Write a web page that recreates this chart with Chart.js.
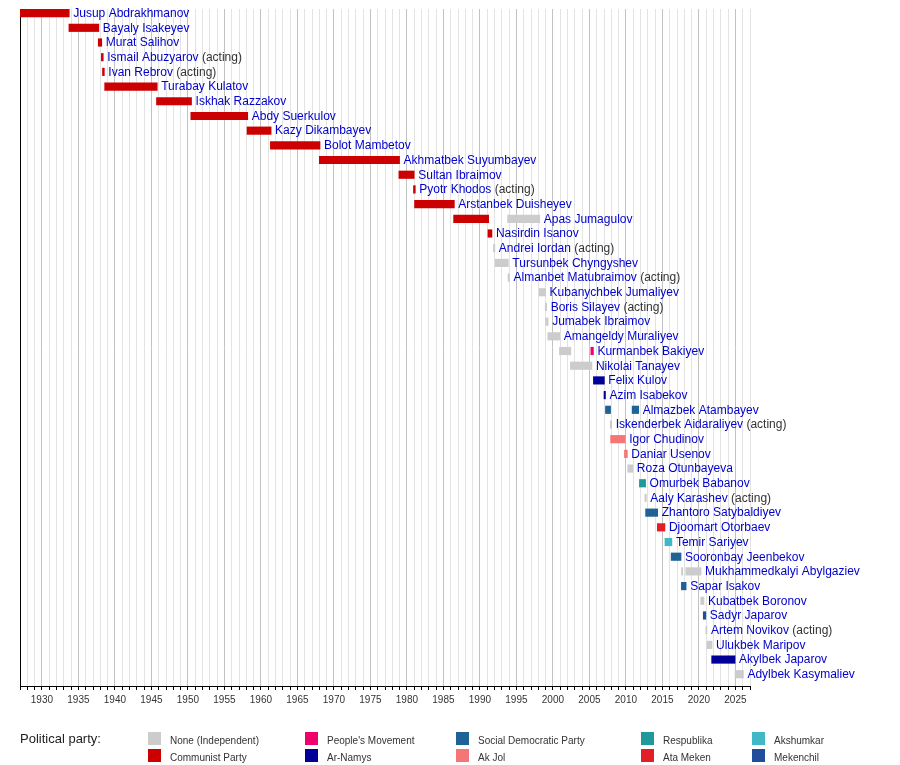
<!DOCTYPE html>
<html><head><meta charset="utf-8">
<script src="https://cdn.jsdelivr.net/npm/chart.js@4.4.1/dist/chart.umd.min.js"></script>
<style>
html,body{margin:0;padding:0;background:#fff;}
#wrap{position:relative;width:900px;height:765px;}
#legend{position:absolute;left:0;top:0;width:900px;height:765px;pointer-events:none;font-family:"Liberation Sans",Arial,sans-serif;}
.sw{position:absolute;width:13px;height:13px;}
.lt{position:absolute;font-size:10px;color:#333;line-height:13px;white-space:nowrap;}
.ttl{position:absolute;font-size:13px;color:#222;line-height:16px;white-space:nowrap;}
</style></head>
<body><div id="wrap"><canvas id="c" width="900" height="765"></canvas><div id="legend"></div></div>
<script>
const names = ["Jusup Abdrakhmanov","Bayaly Isakeyev","Murat Salihov","Ismail Abuzyarov","Ivan Rebrov","Turabay Kulatov","Iskhak Razzakov","Abdy Suerkulov","Kazy Dikambayev","Bolot Mambetov","Akhmatbek Suyumbayev","Sultan Ibraimov","Pyotr Khodos","Arstanbek Duisheyev","Apas Jumagulov","Nasirdin Isanov","Andrei Iordan","Tursunbek Chyngyshev","Almanbet Matubraimov","Kubanychbek Jumaliyev","Boris Silayev","Jumabek Ibraimov","Amangeldy Muraliyev","Kurmanbek Bakiyev","Nikolai Tanayev","Felix Kulov","Azim Isabekov","Almazbek Atambayev","Iskenderbek Aidaraliyev","Igor Chudinov","Daniar Usenov","Roza Otunbayeva","Omurbek Babanov","Aaly Karashev","Zhantoro Satybaldiyev","Djoomart Otorbaev","Temir Sariyev","Sooronbay Jeenbekov","Mukhammedkalyi Abylgaziev","Sapar Isakov","Kubatbek Boronov","Sadyr Japarov","Artem Novikov","Ulukbek Maripov","Akylbek Japarov","Adylbek Kasymaliev"];
const acting = [0,0,0,1,1,0,0,0,0,0,0,0,1,0,0,0,1,0,1,0,1,0,0,0,0,0,0,0,1,0,0,0,0,1,0,0,0,0,0,0,0,0,1,0,0,0];

// terms: row index, start year, end year, party index
const termRow   = [0,1,2,3,4,5,6,7,8,9,10,11,12,13,14,14,15,16,17,18,19,20,21,22,23,23,24,25,26,27,27,28,29,30,31,32,33,34,35,36,37,38,38,39,40,41,42,43,44,45];
const termStart = [1927.0,1933.7,1937.72,1938.15,1938.3,1938.6,1945.7,1950.4,1958.1,1961.3,1968.0,1978.9,1980.9,1981.05,1986.4,1993.8,1991.1,1991.85,1992.1,1993.85,1998.1,1998.95,1999.0,1999.3,2000.9,2005.2,2002.4,2005.55,2007.0,2007.2,2010.85,2007.85,2007.9,2009.8,2010.25,2011.85,2012.6,2012.7,2014.3,2015.35,2016.2,2017.62,2018.2,2017.6,2020.25,2020.6,2020.95,2021.1,2021.75,2024.95];
const termEnd   = [1933.75,1937.8,1938.2,1938.4,1938.55,1945.8,1950.5,1958.2,1961.4,1968.1,1979.0,1981.0,1981.15,1986.5,1991.2,1998.2,1991.65,1992.05,1993.9,1994.05,1999.0,1999.15,1999.35,2000.95,2002.45,2005.55,2005.35,2007.05,2007.2,2007.9,2011.75,2008.05,2009.9,2010.2,2010.95,2012.7,2012.8,2014.35,2015.35,2016.3,2017.55,2017.8,2020.3,2018.25,2020.7,2020.95,2021.1,2021.8,2024.95,2026.1];
const termParty = [1,1,1,1,1,1,1,1,1,1,1,1,1,1,1,0,1,0,0,0,0,0,0,0,0,2,0,3,3,4,4,0,5,5,0,6,0,4,7,8,4,0,0,4,0,9,0,0,3,0];

const parties = ["None (Independent)","Communist Party","People's Movement","Ar-Namys","Social Democratic Party","Ak Jol","Respublika","Ata Meken","Akshumkar","Mekenchil"];
const partyColors = ["#cccccc","#cc0000","#f0006a","#000099","#1f6296","#f47676","#1f9999","#e21f28","#40b8c6","#1f4f9a"];

const yearMin = 1927, yearMax = 2027;

const datasets = parties.map((p, pi) => ({
  label: p,
  backgroundColor: partyColors[pi],
  data: termRow.map((r, k) => termParty[k] === pi ? {x: [termStart[k], termEnd[k]], y: r} : null).filter(d => d)
}));

const labelPlugin = {
  id: 'names',
  afterDatasetsDraw(chart) {
    const {ctx, scales: {x, y}} = chart;
    ctx.save();
    ctx.font = '12px "Liberation Sans", Arial, sans-serif';
    ctx.textBaseline = 'middle';
    names.forEach((n, i) => {
      let end = -Infinity;
      termRow.forEach((r, k) => { if (r === i) end = Math.max(end, termEnd[k]); });
      let px = x.getPixelForValue(end) + 4;
      const py = y.getPixelForValue(i) + 0.5;
      ctx.fillStyle = '#0000cc';
      ctx.fillText(n, px, py);
      if (acting[i]) {
        px += ctx.measureText(n).width;
        ctx.fillStyle = '#333';
        ctx.fillText(' (acting)', px, py);
      }
    });
    ctx.restore();
  }
};

new Chart(document.getElementById('c'), {
  type: 'bar',
  data: {datasets},
  options: {
    indexAxis: 'y',
    responsive: false,
    animation: false,
    layout: {padding: {left: 20, right: 150, top: 9, bottom: 0}},
    plugins: {legend: {display: false}, tooltip: {enabled: false}},
    datasets: {bar: {grouped: false, barThickness: 7.5, borderWidth: 0}},
    scales: {
      x: {
        type: 'linear', min: yearMin, max: yearMax, position: 'bottom', offset: false,
        afterFit(s) { s.height = 79; },
        ticks: {stepSize: 1, autoSkip: false, maxRotation: 0, padding: 4, color: '#333',
          font: {family: '"Liberation Sans", Arial, sans-serif', size: 10},
          callback: v => (v % 5 === 0 ? String(v) : '')},
        grid: {offset: false, color: c => (c.tick && c.tick.value % 5 === 0 ? '#c2c2c2' : '#e3e3e3'), tickColor: '#000', tickLength: 4, lineWidth: 1},
        border: {color: '#000', width: 1}
      },
      y: {
        type: 'linear', min: -0.28, max: 45.8, reverse: true, offset: false,
        afterFit(s) { s.width = 0; },
        ticks: {display: false},
        grid: {display: false, drawTicks: false, offset: false},
        border: {display: true, color: '#000', width: 1}
      }
    }
  },
  plugins: [labelPlugin]
});

// legend
const leg = document.getElementById('legend');
const title = document.createElement('div');
title.className = 'ttl'; title.textContent = 'Political party:';
title.style.left = '20px'; title.style.top = '731px';
leg.appendChild(title);
const colX = [148, 305, 456, 641, 752];
const rowY = [732, 749];
parties.forEach((p, i) => {
  const col = Math.floor(i / 2), row = i % 2;
  const sw = document.createElement('div');
  sw.className = 'sw';
  sw.style.left = colX[col] + 'px'; sw.style.top = rowY[row] + 'px';
  sw.style.background = partyColors[i];
  leg.appendChild(sw);
  const t = document.createElement('div');
  t.className = 'lt'; t.textContent = p;
  t.style.left = (colX[col] + 22) + 'px'; t.style.top = (rowY[row] + 2) + 'px';
  leg.appendChild(t);
});
</script>
</body></html>
